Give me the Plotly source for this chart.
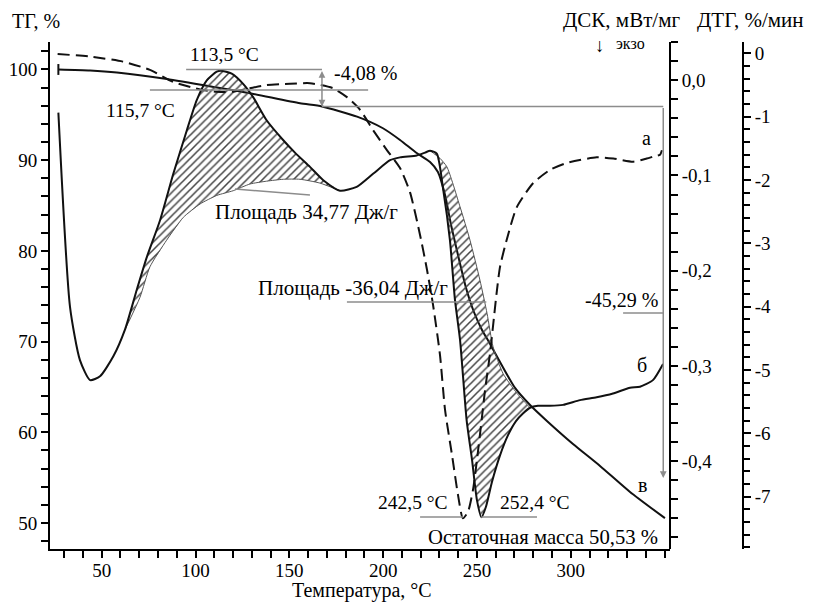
import plotly.graph_objects as go

# ---------------- data ----------------
tg_T = [26.9, 43.8, 58.1, 84.8, 111.4, 129.0, 155.7, 167.4, 186.1, 199.9, 209.0, 217.9, 225.0,
        229.2, 233.0, 236.2, 239.9, 244.2, 248.4, 252.7, 257.0, 262.3, 270.3, 278.3, 287.3,
        301.2, 315.6, 331.6, 350.2]
tg_val = [100.0, 99.89, 99.67, 98.95, 98.02, 97.38, 96.27, 95.92, 94.80, 93.52, 92.23, 90.79,
          89.80, 88.70, 86.16, 82.86, 79.55, 75.91, 73.26, 71.28, 69.74, 67.75, 64.89, 63.01,
          61.25, 58.71, 56.29, 53.42, 50.53]

dsc_T = [26.9, 33.1, 38.4, 43.8, 49.1, 56.2, 62.4, 68.7, 74.0, 81.1, 88.2, 95.3, 100.6, 106.0,
         111.3, 113.5, 119.3, 125.5, 130.8, 137.9, 146.8, 153.0, 161.0, 168.1, 177.0, 185.9,
         194.8, 203.7, 209.0, 217.9, 222.3, 225.0, 228.6, 232.1, 235.6, 238.3, 241.0, 244.5,
         247.4, 250.0, 252.4, 254.8, 258.0, 262.3, 266.5, 270.8, 274.5, 278.3, 282.5, 288.9,
         295.9, 304.9, 313.8, 322.5, 331.6, 336.9, 343.8, 349.2]
dsc_val = [-0.034, -0.238, -0.294, -0.315, -0.311, -0.290, -0.262, -0.220, -0.186, -0.147,
           -0.098, -0.053, -0.021, 0.000, 0.009, 0.010, 0.007, -0.004, -0.018, -0.042, -0.063,
           -0.076, -0.091, -0.105, -0.116, -0.112, -0.098, -0.084, -0.081, -0.079, -0.076,
           -0.074, -0.077, -0.116, -0.168, -0.231, -0.273, -0.357, -0.399, -0.441, -0.459,
           -0.448, -0.422, -0.394, -0.373, -0.358, -0.350, -0.344, -0.342, -0.342, -0.341,
           -0.336, -0.333, -0.329, -0.323, -0.322, -0.315, -0.298]

dtg_T = [26.5, 43.8, 61.3, 75.7, 88.0, 102.4, 111.3, 115.7, 120.1, 129.0, 137.9, 150.4, 161.0,
         173.3, 180.7, 187.7, 194.6, 202.1, 209.0, 214.3, 219.7, 223.4, 226.6, 230.3, 233.0,
         236.7, 239.9, 242.5, 245.2, 247.9, 250.0, 252.5, 254.3, 257.0, 260.5, 262.3, 265.8,
         271.2, 279.9, 288.9, 297.9, 313.8, 322.7, 333.3, 340.5, 344.0, 347.6, 348.6]
dtg_val = [-0.01, -0.05, -0.13, -0.26, -0.45, -0.57, -0.605, -0.61, -0.605, -0.55, -0.50, -0.48,
           -0.47, -0.55, -0.69, -0.89, -1.21, -1.53, -1.81, -2.19, -2.87, -3.42, -3.97, -4.76,
           -5.63, -6.34, -6.97, -7.34, -7.24, -6.89, -6.42, -5.79, -5.32, -4.73, -3.78, -3.37,
           -2.95, -2.43, -2.05, -1.84, -1.73, -1.64, -1.66, -1.71, -1.66, -1.63, -1.60, -1.53]

# integration baselines of the two DSC peaks
base1_T = [62.4, 70.4, 75.7, 84.6, 93.5, 102.4, 111.3, 120.1, 129.0, 137.9, 146.8, 155.7, 166.3, 177.0]
base1_val = [-0.262, -0.228, -0.196, -0.168, -0.144, -0.130, -0.121, -0.116, -0.109, -0.106,
             -0.104, -0.104, -0.108, -0.116]
base2_T = [225.0, 230.3, 234.0, 241.0, 246.3, 251.6, 255.4, 258.6, 263.9, 271.4, 278.3]
base2_val = [-0.074, -0.082, -0.091, -0.133, -0.168, -0.210, -0.245, -0.280, -0.308, -0.329, -0.344]

x_ticks = [50, 100, 150, 200, 250, 300]
tg_ticks = [50, 60, 70, 80, 90, 100]
dsc_ticks = [0.0, -0.1, -0.2, -0.3, -0.4]
dsc_ticktext = ["0,0", "-0,1", "-0,2", "-0,3", "-0,4"]
dtg_ticks = [0, -1, -2, -3, -4, -5, -6, -7]
dtg_ticktext = ["0", "-1", "-2", "-3", "-4", "-5", "-6", "-7"]

# ---------------- figure ----------------
FONT = "Liberation Serif"
BLACK = "#111111"
GRAY = "#8c8c8c"
XDOM = 620 / 693

fig = go.Figure()


def region(t0, t1, bT, bV):
    xs = [t for t in dsc_T if t0 <= t <= t1]
    ys = [v for t, v in zip(dsc_T, dsc_val) if t0 <= t <= t1]
    return xs + bT[::-1], ys + bV[::-1]


for (t0, t1, bT, bV) in [(62.4, 177.0, base1_T, base1_val), (225.0, 278.3, base2_T, base2_val)]:
    px, py = region(t0, t1, bT, bV)
    fig.add_trace(go.Scatter(
        x=px, y=py, yaxis="y2", mode="lines", fill="toself",
        fillcolor="rgba(0,0,0,0)", line=dict(width=0),
        fillpattern=dict(shape="/", fgcolor="#444444", bgcolor="rgba(0,0,0,0)",
                         size=5.5, solidity=0.28, fillmode="replace"),
        hoverinfo="skip", showlegend=False))
    fig.add_trace(go.Scatter(x=bT, y=bV, yaxis="y2", mode="lines",
                             line=dict(color="#555555", width=1, shape="spline", smoothing=0.6),
                             hoverinfo="skip", showlegend=False))

# TG
fig.add_trace(go.Scatter(x=tg_T, y=tg_val, yaxis="y", mode="lines",
                         line=dict(color=BLACK, width=2, shape="spline", smoothing=0.6),
                         showlegend=False))
# DSC
fig.add_trace(go.Scatter(x=dsc_T, y=dsc_val, yaxis="y2", mode="lines",
                         line=dict(color=BLACK, width=2, shape="spline", smoothing=0.6),
                         showlegend=False))
# DTG
fig.add_trace(go.Scatter(x=dtg_T, y=dtg_val, yaxis="y3", mode="lines",
                         line=dict(color=BLACK, width=2, dash="12px,6px", shape="spline", smoothing=0.6),
                         showlegend=False))

tickfont = dict(family=FONT, size=19, color="black")
common = dict(showgrid=False, zeroline=False, showline=True, linecolor="black", linewidth=2,
              ticks="outside", ticklen=7, tickwidth=2, tickcolor="black", tickfont=tickfont,
              automargin=False)
minor_common = dict(ticks="outside", ticklen=7, tickwidth=2, tickcolor="black")

# the page body adds an 8 px margin, so the figure is 8 px smaller and margins shifted
fig.update_layout(
    width=810, height=596,
    margin=dict(l=42, r=75, t=34, b=55, autoexpand=False),
    paper_bgcolor="white", plot_bgcolor="white",
    showlegend=False,
    xaxis=dict(domain=[0, XDOM], range=[22.44, 352.9], tickmode="array", tickvals=x_ticks,
               minor=dict(dtick=10, tick0=0, **minor_common), ticklabelstandoff=-4,
               **common),
    yaxis=dict(range=[47.13, 103.03], tickmode="array", tickvals=tg_ticks,
               minor=dict(dtick=2, tick0=0, **minor_common), ticklabelstandoff=0,
               **common),
    yaxis2=dict(range=[-0.4924, 0.0402], overlaying="y", side="right", anchor="free",
                position=XDOM, tickmode="array", tickvals=dsc_ticks, ticktext=dsc_ticktext,
                minor=dict(dtick=0.02, tick0=0, **minor_common),
                **common),
    yaxis3=dict(range=[-7.825, 0.18], overlaying="y", side="right", anchor="free",
                position=1.0, tickmode="array", tickvals=dtg_ticks, ticktext=dtg_ticktext,
                minor=dict(dtick=0.2, tick0=0, ticks="outside", ticklen=6, tickwidth=2, tickcolor="black"),
                **common),
)

# gray guide lines
lines = [
    (95.0, 100.0, 167.4, 100.0),      # 100 % level
    (75.7, 97.74, 192.0, 97.74),      # 115,7 °C marker
    (167.4, 95.92, 349.3, 95.92),     # -4,08 % level
    (121.0, 86.83, 161.0, 86.16),     # tangent under area 1
    (180.7, 74.37, 255.0, 74.37),     # area 2 underline
    (327.9, 73.15, 349.3, 73.15),     # -45,29 underline
    (219.7, 50.66, 242.6, 50.66),     # 242,5 °C
    (252.2, 50.66, 282.0, 50.66),     # 252,4 °C
]
for x0, y0, x1, y1 in lines:
    fig.add_shape(type="line", xref="x", yref="y", x0=x0, y0=y0, x1=x1, y1=y1,
                  line=dict(color=GRAY, width=1.5))
# start mark of TG curve
fig.add_shape(type="line", xref="x", yref="y", x0=tg_T[0], x1=tg_T[0], y0=99.4, y1=100.6,
              line=dict(color=BLACK, width=2))

# arrows
fig.add_annotation(x=167.4, y=95.92, ax=167.4, ay=100.0, xref="x", yref="y", axref="x", ayref="y",
                   text="", showarrow=True, arrowhead=2, arrowsize=0.9, arrowwidth=1.5,
                   arrowside="end+start", arrowcolor=GRAY)
fig.add_annotation(x=349.3, y=54.96, ax=349.3, ay=95.92, xref="x", yref="y", axref="x", ayref="y",
                   text="", showarrow=True, arrowhead=2, arrowsize=0.9, arrowwidth=1.5,
                   arrowcolor=GRAY)

texts = [
    ("113,5 °C", 115.2, 101.60, "center", 19.5),
    ("115,7 °C", 70.9, 95.53, "center", 19.5),
    ("-4,08 %", 172.7, 99.61, "left", 20),
    ("Площадь 34,77 Дж/г", 159.2, 84.29, "center", 21),
    ("Площадь -36,04 Дж/г", 183.7, 75.91, "center", 21),
    ("-45,29 %", 327.3, 74.59, "center", 20),
    ("а", 340.6, 92.45, "center", 20),
    ("б", 338.0, 67.42, "center", 20),
    ("в", 338.0, 54.19, "center", 20),
    ("242,5 °C", 215.9, 52.21, "center", 19.5),
    ("252,4 °C", 280.9, 52.21, "center", 19.5),
    ("Остаточная масса 50,53 %", 285.2, 48.46, "center", 20.7),
]
for t, x, y, xa, s in texts:
    fig.add_annotation(x=x, y=y, xref="x", yref="y", text=t, showarrow=False,
                       xanchor=xa, yanchor="middle",
                       font=dict(family=FONT, size=s, color="black"))

paper_texts = [
    ("ТГ, %", -0.0577, 1.0414, "left", 20),
    ("ДСК, мВт/мг", 0.824, 1.0434, "center", 21),
    ("ДТГ, %/мин", 1.0115, 1.0434, "center", 21),
    ("↓", 0.7937, 0.994, "center", 19),
    ("экзо", 0.837, 0.998, "center", 16),
    ("Температура, °C", 0.4495, -0.0828, "center", 20),
]
for t, x, y, xa, s in paper_texts:
    fig.add_annotation(x=x, y=y, xref="paper", yref="paper", text=t, showarrow=False,
                       xanchor=xa, yanchor="middle",
                       font=dict(family=FONT, size=s, color="black"))

fig.write_html("out.html")
